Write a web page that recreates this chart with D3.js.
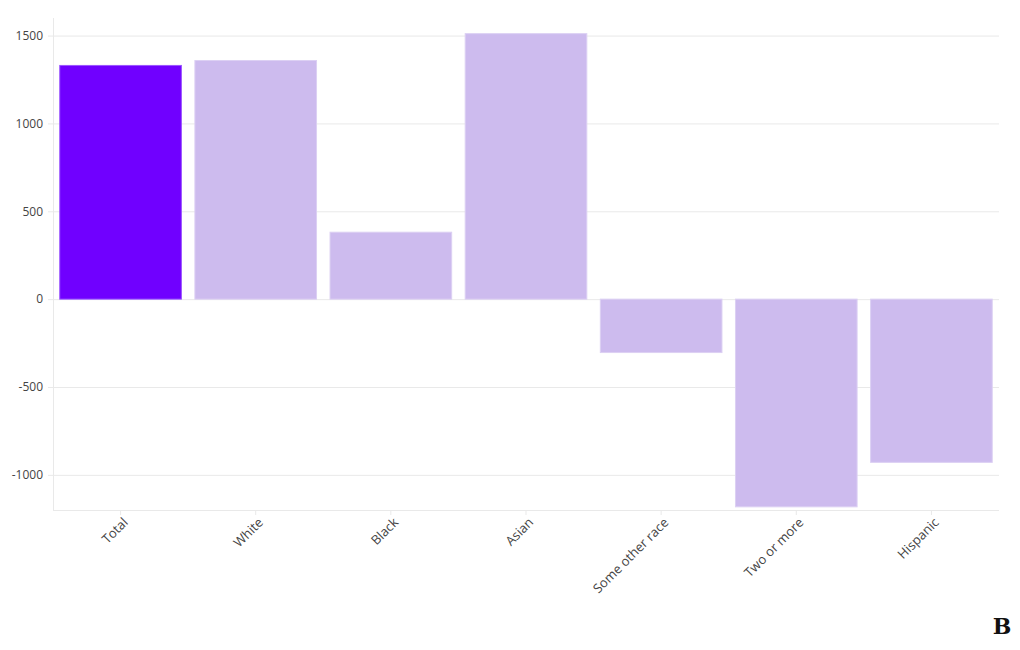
<!DOCTYPE html>
<html><head><meta charset="utf-8">
<script src="https://cdn.jsdelivr.net/npm/d3@7"></script>
<style>
body{margin:0;background:#fff;}
svg, svg text{font-family:"Open Sans","Noto Sans",sans-serif;}
</style></head>
<body><svg id="c" width="1020" height="650"></svg>
<script>
const categories = ["Total","White","Black","Asian","Some other race","Two or more","Hispanic"];
const values = [1330, 1358, 381, 1511, -304, -1182, -929];
const yTicks = [-1000, -500, 0, 500, 1000, 1500];
const yDomain = [-1200, 1600];

const svg = d3.select("#c");
const m = {left:53, right:21, top:18, bottom:140};
const W = 1020, H = 650;
const x = d3.scaleBand().domain(categories).range([m.left, W-m.right]).paddingInner(0.1).paddingOuter(0.05);
const y = d3.scaleLinear().domain(yDomain).range([H-m.bottom, m.top]);

// gridlines
svg.append("g").selectAll("line").data(yTicks).join("line")
  .attr("x1", m.left).attr("x2", W-m.right)
  .attr("y1", d=>y(d)+0.5).attr("y2", d=>y(d)+0.5)
  .attr("stroke", "#e9e9e9").attr("stroke-width",1);

// frame lines
svg.append("line").attr("x1",m.left+0.5).attr("x2",m.left+0.5).attr("y1",m.top).attr("y2",H-m.bottom)
  .attr("stroke","#e9e9e9");
svg.append("line").attr("x1",m.left).attr("x2",W-m.right).attr("y1",H-m.bottom+0.5).attr("y2",H-m.bottom+0.5)
  .attr("stroke","#e9e9e9");

// bars
svg.append("g").selectAll("rect").data(values).join("rect")
  .attr("x", (d,i)=>x(categories[i]))
  .attr("width", x.bandwidth())
  .attr("y", d=>y(Math.max(0,d)))
  .attr("height", d=>Math.abs(y(d)-y(0)))
  .attr("fill", (d,i)=> i===0 ? "#7000ff" : "#cdbbee")
  .attr("stroke", (d,i)=> i===0 ? "#9a55ff" : "#dcd0f3")
  .attr("stroke-width", 1);

// y axis
const ya = svg.append("g").attr("transform",`translate(${m.left},0)`)
  .call(d3.axisLeft(y).tickValues(yTicks).tickFormat(d=>String(d)).tickSize(5).tickPadding(5));
ya.attr("font-family", null).attr("font-size", null);
ya.select(".domain").remove();
ya.selectAll(".tick line").attr("stroke","#e9e9e9");
ya.selectAll("text").attr("fill","#444").style("font-size","12px").attr("dy","0.32em");

// x axis
const xa = svg.append("g").attr("transform",`translate(0,${H-m.bottom})`)
  .call(d3.axisBottom(x).tickSize(5).tickPadding(6));
xa.attr("font-family", null).attr("font-size", null);
xa.select(".domain").remove();
xa.selectAll(".tick line").attr("stroke","#e9e9e9");
xa.selectAll("text").attr("fill","#444").style("font-size","13px")
  .attr("x",0).attr("y",0)
  .attr("text-anchor","end").attr("dy","0.35em")
  .attr("transform","translate(5,10) rotate(-45)");

// logo
svg.append("text").attr("x",1002).attr("y",634).attr("text-anchor","middle")
  .style("font-family","'DejaVu Serif',serif").style("font-weight","bold").style("font-size","22px")
  .attr("fill","#111").text("B");
</script></body></html>
